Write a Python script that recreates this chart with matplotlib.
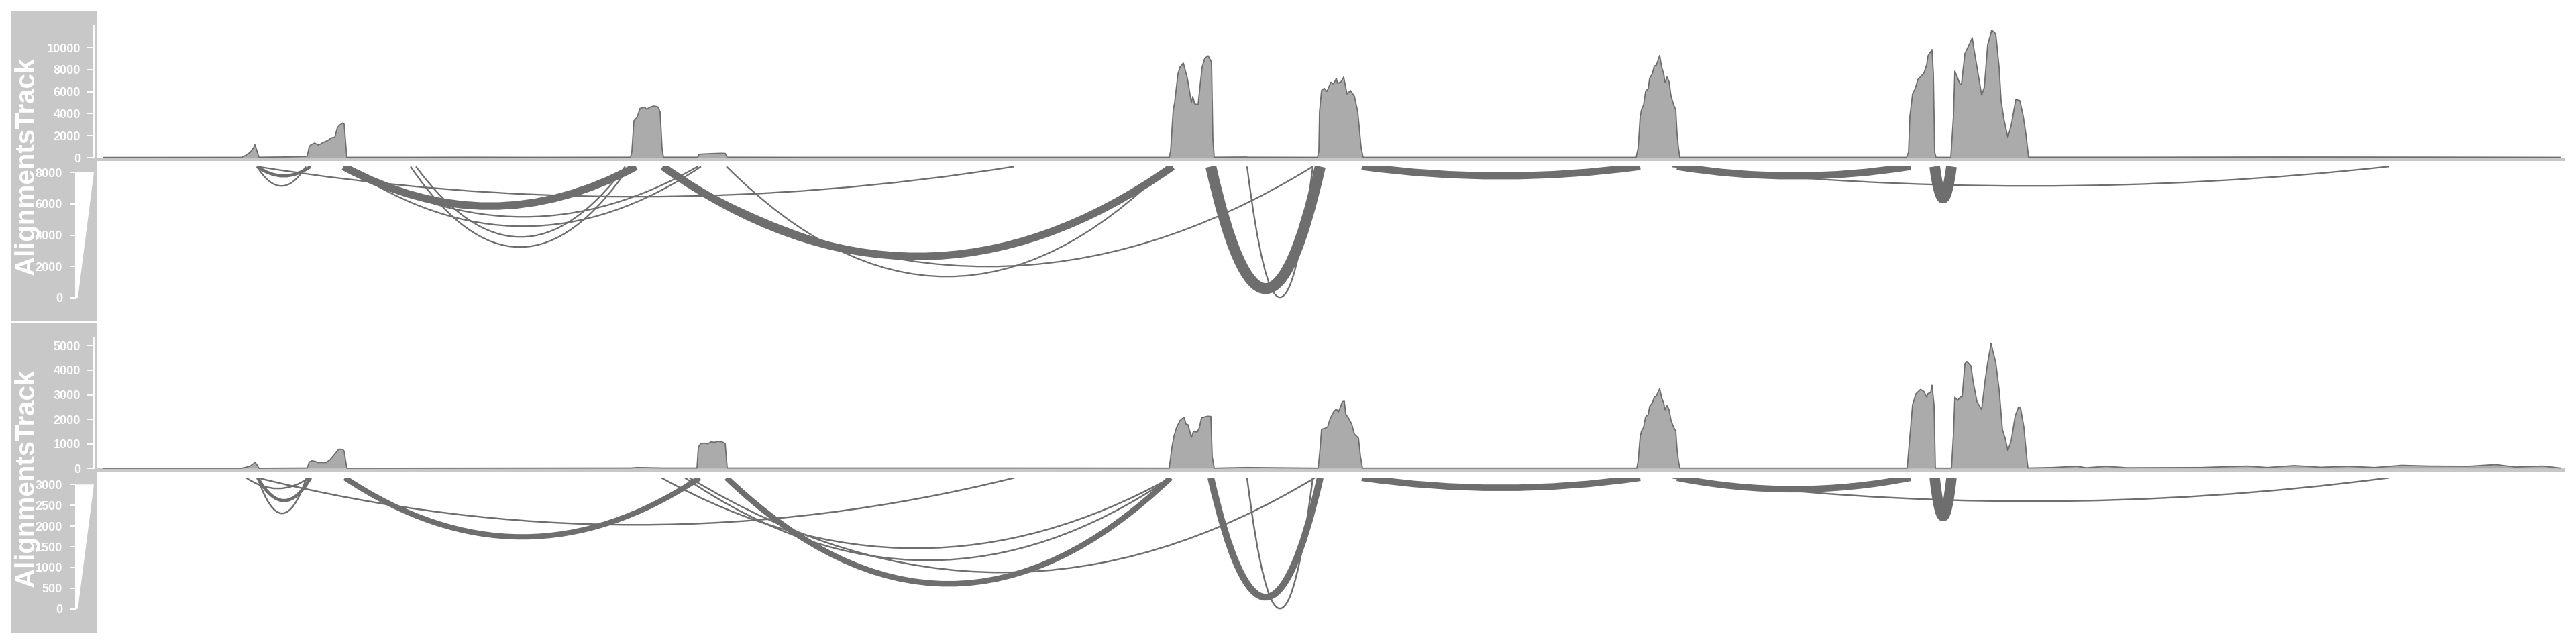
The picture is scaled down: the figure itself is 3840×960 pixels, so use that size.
import numpy as np
import matplotlib
matplotlib.use("Agg")
import matplotlib.pyplot as plt
from matplotlib.path import Path
from matplotlib.patches import PathPatch, Rectangle, Polygon

plt.rcParams['font.family'] = ['Liberation Sans', 'DejaVu Sans']

W, H = 3840, 960
PANEL_GREY = '#C8C8C8'
FILL_GREY = '#ABABAB'
LINE_GREY = '#6E6E6E'

track_title = "AlignmentsTrack"

# --- sample 1: read coverage (position, depth) ---
cov1_pos = [154, 360, 366, 373, 378, 380, 383, 386, 420, 455, 458, 461, 463, 469, 474, 478, 482,
            488, 494, 499, 503, 507, 511, 513, 517, 600, 700, 800, 900, 940, 942, 945, 950, 954,
            961, 964, 968, 974, 979, 981, 984, 987, 989, 1040, 1042, 1046, 1060, 1075, 1081, 1084,
            1200, 1400, 1600, 1743, 1745, 1749, 1751, 1756, 1759, 1764, 1770, 1776, 1778, 1781,
            1786, 1789, 1792, 1796, 1801, 1806, 1808, 1810, 1858, 1860, 1964, 1966, 1967, 1970,
            1974, 1978, 1984, 1988, 1992, 1994, 1999, 2003, 2008, 2013, 2019, 2024, 2029, 2032,
            2200, 2439, 2442, 2445, 2447, 2450, 2453, 2457, 2459, 2463, 2466, 2469, 2474, 2477,
            2480, 2482, 2485, 2488, 2491, 2495, 2498, 2500, 2502, 2504, 2700, 2842, 2845, 2847,
            2851, 2855, 2859, 2864, 2868, 2872, 2874, 2880, 2882, 2884, 2886, 2908, 2912, 2914,
            2922, 2924, 2929, 2933, 2940, 2942, 2947, 2954, 2958, 2963, 2969, 2975, 2980, 2983,
            2987, 2993, 2998, 3005, 3011, 3016, 3020, 3024, 3200, 3400, 3600, 3816]
cov1_val = [20, 30, 200, 490, 900, 1180, 600, 40, 60, 110, 150, 1000, 1150, 1340, 1160, 1250, 1400,
            1540, 1800, 1850, 2740, 2990, 3150, 3050, 30, 30, 40, 30, 40, 40, 600, 3350, 3700, 4470,
            4590, 4400, 4550, 4690, 4650, 4600, 4160, 800, 40, 40, 300, 330, 370, 400, 390, 40,
            30, 30, 30, 30, 600, 4370, 4980, 7620, 8230, 8600, 7210, 5000, 5550, 4880,
            4820, 6590, 8230, 9040, 9250, 8680, 1730, 40, 60, 40, 30, 600, 4170, 6100,
            6300, 6020, 6850, 6700, 7200, 6750, 6900, 7320, 5790, 6100, 5590, 4170, 910, 30,
            30, 30, 910, 3760, 4370, 4780, 6000, 6300, 7210, 7620, 8330, 8400, 9290, 8230,
            7620, 6830, 7330, 6900, 5590, 4780, 4370, 2130, 910, 30, 30, 30, 490, 3760,
            5790, 6300, 7110, 7420, 7700, 8430, 9250, 9820, 7620, 490, 30, 30, 3760, 7870,
            6650, 6700, 9450, 9960, 10900, 10060, 8230, 5690, 6400, 10260, 11590, 11280, 8230, 5180,
            3560, 1830, 2930, 5300, 5180, 3760, 2130, 40, 40, 60, 50, 30]

# --- sample 2: read coverage ---
cov2_pos = [154, 360, 368, 373, 378, 380, 383, 386, 458, 461, 465, 470, 474, 480, 486, 492, 499,
            505, 511, 513, 517, 700, 940, 950, 988, 1039, 1041, 1044, 1050, 1055, 1060, 1065,
            1070, 1076, 1081, 1084, 1300, 1500, 1743, 1747, 1750, 1754, 1759, 1765, 1768, 1771,
            1776, 1779, 1785, 1788, 1791, 1796, 1800, 1805, 1807, 1810, 1858, 1965, 1968, 1970,
            1974, 1979, 1983, 1988, 1992, 1995, 1998, 2001, 2004, 2006, 2010, 2015, 2019, 2025,
            2028, 2031, 2440, 2442, 2445, 2447, 2450, 2453, 2457, 2459, 2463, 2466, 2469, 2474,
            2477, 2480, 2482, 2485, 2488, 2491, 2495, 2498, 2500, 2502, 2504, 2843, 2847, 2851,
            2856, 2863, 2868, 2872, 2874, 2878, 2880, 2883, 2885, 2909, 2912, 2914, 2918, 2922,
            2925, 2929, 2932, 2938, 2941, 2947, 2954, 2959, 2963, 2968, 2975, 2980, 2985, 2989,
            2993, 2998, 3004, 3009, 3012, 3017, 3021, 3023, 3060, 3096, 3110, 3140, 3170, 3280,
            3350, 3380, 3420, 3460, 3500, 3540, 3580, 3620, 3680, 3720, 3750, 3790, 3816]
cov2_val = [10, 10, 60, 100, 200, 265, 150, 10, 20, 265, 310, 290, 240, 245, 240, 355, 580,
            785, 775, 700, 10, 15, 20, 40, 20, 20, 850, 1000, 1030, 1000, 1080, 1060,
            1100, 1080, 1020, 20, 20, 20, 15, 855, 1310, 1675, 1950, 2085, 1810, 1780,
            1265, 1500, 1490, 1675, 2060, 2100, 2130, 2120, 490, 15, 40, 15, 855, 1600,
            1620, 1690, 2040, 2310, 2420, 2300, 2490, 2720, 2740, 2220, 2060, 1810, 1400, 1240,
            490, 15, 15, 320, 1300, 1530, 1670, 2100, 2200, 2520, 2670, 2900, 2950, 3250,
            2880, 2670, 2390, 2560, 2400, 1950, 1670, 1530, 750, 320, 15, 15, 1310, 2590,
            3040, 3220, 3130, 2900, 3050, 3100, 3390, 2590, 15, 15, 1400, 2900, 2770, 2900,
            2920, 4270, 4360, 4180, 3590, 2720, 2400, 3540, 4320, 5090, 4320, 3220, 1580, 1240,
            720, 1130, 2130, 2510, 2450, 1675, 490, 20, 40, 90, 30, 90, 30, 40,
            100, 40, 120, 50, 90, 40, 130, 100, 90, 160, 60, 100, 20]

# --- splice junctions: start, end, arc depth, junction score ---
junc1_start = [383, 383, 383, 512, 520, 515, 612, 620, 988, 1083, 988, 1805, 1859, 2030, 2500, 2884, 2493]
junc1_end = [463, 456, 1512, 948, 1040, 1045, 938, 932, 1748, 1740, 1957, 1968, 1957, 2445, 2848, 2909, 3561]
junc1_depth = [14, 29, 45, 59, 75, 89, 120, 105, 134, 164, 149, 182, 195, 14, 14, 47, 29]
junc1_score = [800, 30, 30, 2900, 30, 30, 30, 30, 2900, 30, 30, 4500, 30, 2700, 2700, 4400, 30]

junc2_start = [367, 384, 384, 384, 514, 1083, 986, 1021, 1028, 1805, 1859, 2030, 2500, 2884, 2493]
junc2_end = [461, 463, 457, 1512, 1043, 1745, 1745, 1745, 1960, 1968, 1957, 2445, 2848, 2909, 3561]
junc2_depth = [16, 34, 53, 70, 88, 158, 105, 123, 141, 178, 195, 15, 17, 57, 35]
junc2_score = [30, 300, 30, 30, 700, 750, 30, 30, 30, 950, 30, 900, 900, 1600, 30]

cov1_ticks = [0, 2000, 4000, 6000, 8000, 10000]
cov2_ticks = [0, 1000, 2000, 3000, 4000, 5000]
sash1_ticks = [0, 2000, 4000, 6000, 8000]
sash2_ticks = [0, 500, 1000, 1500, 2000, 2500, 3000]

X_LEFT, X_RIGHT = 140, 3824


def fig_rect(x0, y_top, x1, y_bot):
    return [x0 / W, 1 - y_bot / H, (x1 - x0) / W, (y_bot - y_top) / H]


def px2pt(px):
    return px * 72 / 100


def white_axis(ax, ticks, length_px, pad_px):
    for s in ['top', 'right', 'bottom']:
        ax.spines[s].set_visible(False)
    ax.spines['left'].set_color('white')
    ax.spines['left'].set_linewidth(1.4)
    ax.set_xticks([])
    ax.set_yticks(ticks)
    ax.tick_params(axis='y', colors='white', length=px2pt(length_px), width=1.4,
                   pad=px2pt(pad_px), labelsize=13)
    for lab in ax.get_yticklabels():
        lab.set_fontweight('bold')


def draw_track(panel_top, panel_bot, base_y, px_per_unit, cov_top_y, cov_max,
               pos, val, cov_ticks, sash_top, sash_bot, sash_zero_y, sash_max_y, sash_max,
               sash_ticks, j_start, j_end, j_depth, j_score):
    # grey title panel with rotated name
    fig.patches.append(Rectangle((17 / W, 1 - panel_bot / H), (145 - 17) / W,
                                 (panel_bot - panel_top) / H, transform=fig.transFigure,
                                 facecolor=PANEL_GREY, edgecolor='none', zorder=-5))

    # coverage
    ax = fig.add_axes(fig_rect(X_LEFT, cov_top_y, X_RIGHT, base_y + 5.3))
    ax.set_facecolor('none')
    ax.set_xlim(X_LEFT, X_RIGHT)
    ax.set_ylim(-5.3 / px_per_unit, (base_y - cov_top_y) / px_per_unit)
    ax.axhspan(-5.3 / px_per_unit, 0, color=PANEL_GREY, lw=0, zorder=1)
    ax.fill_between(pos, val, 0, facecolor=FILL_GREY, edgecolor='none', zorder=2)
    ax.plot(pos, val, color=LINE_GREY, lw=1.3, zorder=3)
    white_axis(ax, cov_ticks, 10, 10)
    ax.spines['left'].set_bounds(0, cov_max)

    # sashimi arcs
    sx = fig.add_axes(fig_rect(X_LEFT, sash_top, X_RIGHT, sash_bot))
    sx.set_facecolor('none')
    sx.set_xlim(X_LEFT, X_RIGHT)
    sx.set_ylim(sash_bot - sash_top, 0)
    sx.axis('off')
    for s, e, d, sc in sorted(zip(j_start, j_end, j_depth, j_score), key=lambda t: t[3]):
        mid = (s + e) / 2
        path = Path([(s, 0), (mid, 2 * d), (e, 0)], [Path.MOVETO, Path.CURVE3, Path.CURVE3])
        lw = px2pt(2.2 + sc / sash_max * 25)
        sx.add_patch(PathPatch(path, facecolor='none', edgecolor=LINE_GREY, lw=lw,
                               capstyle='butt', joinstyle='round'))

    # line-width scale for the junction scores
    lx = fig.add_axes(fig_rect(113, sash_max_y, 140, sash_zero_y))
    lx.set_facecolor('none')
    lx.set_xlim(0, 1)
    lx.set_ylim(0, sash_max)
    lx.add_patch(Polygon([(0, 0), (3 / 27, 0), (1, sash_max), (0, sash_max)],
                         closed=True, facecolor='white', edgecolor='none'))
    white_axis(lx, sash_ticks, 9, 11)

    fig.text(40 / W, 1 - (panel_top + panel_bot) / 2 / H, track_title, rotation=90,
             ha='center', va='center', color='white', fontsize=29, fontweight='bold',
             zorder=10)


fig = plt.figure(figsize=(W / 100, H / 100), dpi=100)
fig.patch.set_facecolor('white')

draw_track(17, 479, 235, 0.0164, 20, 12000, cov1_pos, cov1_val, cov1_ticks,
           248.3, 478, 444, 257, 8000, sash1_ticks,
           junc1_start, junc1_end, junc1_depth, junc1_score)
draw_track(482, 943, 698.3, 0.0366, 490, 5330, cov2_pos, cov2_val, cov2_ticks,
           712.3, 942, 907.7, 722.3, 3000, sash2_ticks,
           junc2_start, junc2_end, junc2_depth, junc2_score)

fig.savefig('out.png', dpi=100)
